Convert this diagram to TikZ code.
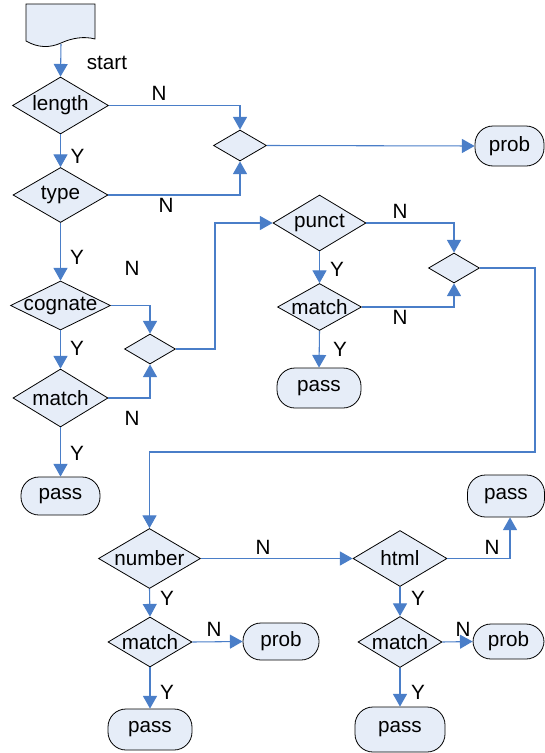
\documentclass[tikz,border=0pt]{standalone}
\usepackage{fontspec}
\setmainfont{Liberation Sans}
\usetikzlibrary{shapes.geometric,arrows.meta}
\definecolor{fillc}{HTML}{E6EDF8}
\definecolor{linec}{HTML}{4A7EC8}
\tikzset{
  dia/.style args={#1x#2}{diamond, draw=black, line width=0.6pt, fill=fillc, inner sep=0pt, minimum width=#1pt, minimum height=#2pt},
  term/.style args={#1x#2}{rectangle, rounded corners=13.5pt, draw=black, line width=0.6pt, fill=fillc, inner sep=0pt, minimum width=#1pt, minimum height=#2pt},
  arr/.style={draw=linec, line width=0.8pt, -{Triangle[length=9.5pt,width=10.5pt]}},
  lbl/.style={inner sep=0pt}
}
\begin{document}
\begin{tikzpicture}[x=0.75pt,y=-0.75pt,font=\fontsize{15.5}{18}\selectfont]
\useasboundingbox (0,0) rectangle (545,753);
% document shape
\draw[fill=fillc, draw=black, line width=0.6pt] (26,4) -- (95,4) -- (95,39)
  .. controls (84,36) and (72,38) .. (61,43)
  .. controls (50,48) and (38,48) .. (26,41) -- cycle;
\coordinate (doc) at (61,44);
\node[lbl] (start) at (107,63) {start};
% diamonds
\node[dia=72x42.75, label=center:length] (length) at (60.5,105.5) {};
\node[dia=71.25x41.25, label=center:type] (type) at (60.5,195) {};
\node[dia=39.75x23.25] (j1) at (240,145.5) {};
\node[dia=75x36.75, label=center:cognate] (cognate) at (60.5,305.5) {};
\node[dia=38.25x22.5] (j2) at (150,349) {};
\node[dia=71.25x43.5, label=center:match] (match1) at (60.5,398) {};
\node[dia=69.75x42, label=center:punct] (punct) at (319.5,223) {};
\node[dia=38.25x22.5] (j3) at (454,268) {};
\node[dia=63x35.25, label=center:match] (match2) at (319.5,307) {};
\node[dia=76.5x45, label=center:number] (number) at (149.5,558.5) {};
\node[dia=70.5x42, label=center:html] (html) at (400,558.5) {};
\node[dia=63x37.5, label=center:match] (match3) at (150,642) {};
\node[dia=63x38.25, label=center:match] (match4) at (400,642) {};
% terminals
\node[term=51.75x30] (prob1) at (509.5,146) {prob};
\node[term=59.25x28.5] (pass1) at (60.5,496) {pass};
\node[term=63x30] (pass2) at (319,388) {pass};
\node[term=57.75x31.5] (pass3) at (506,496) {pass};
\node[term=57x27.75] (prob2) at (281,641.5) {prob};
\node[term=53.25x26.25] (prob3) at (508.5,641.5) {prob};
\node[term=63x30.75] (pass4) at (150,729.5) {pass};
\node[term=67.5x33.75] (pass5) at (400,729.5) {pass};
% connectors
\draw[arr] (doc) -- (length.north);
\draw[arr] (length.east) -| (j1.north);
\draw[arr] (type.east) -| (j1.south);
\draw[arr] (j1.east) -- (prob1.west);
\draw[arr] (length.south) -- (type.north);
\draw[arr] (type.south) -- (cognate.north);
\draw[arr] (cognate.east) -| (j2.north);
\draw[arr] (cognate.south) -- (match1.north);
\draw[arr] (match1.east) -| (j2.south);
\draw[arr] (match1.south) -- (pass1.north);
\coordinate (c0) at (215,223);
\draw[arr] (j2.east) -| (c0) -- (punct.west);
\draw[arr] (punct.east) -| (j3.north);
\draw[arr] (punct.south) -- (match2.north);
\draw[arr] (match2.east) -| (j3.south);
\draw[arr] (match2.south) -- (pass2.north);
\coordinate (c1) at (535,452);
\draw[arr] (j3.east) -| (c1) -| (number.north);
\draw[arr] (number.east) -- (html.west);
\coordinate (c2) at (510,558.5);
\draw[arr] (html.east) -- (c2) -- (c2 |- pass3.south);
\draw[arr] (number.south) -- (match3.north);
\draw[arr] (match3.east) -- (prob2.west);
\draw[arr] (match3.south) -- (pass4.north);
\draw[arr] (html.south) -- (match4.north);
\draw[arr] (match4.east) -- (prob3.west);
\draw[arr] (match4.south) -- (pass5.north);
% labels
\node[lbl] (n1) at (159,93.5) {N};
\node[lbl] (n2) at (166,205) {N};
\node[lbl] (y1) at (77.5,156) {Y};
\node[lbl] (y2) at (77,257) {Y};
\node[lbl] (n3) at (132,268) {N};
\node[lbl] (y3) at (77,348) {Y};
\node[lbl] (n4) at (132,418) {N};
\node[lbl] (y4) at (77,453) {Y};
\node[lbl] (n5) at (400,211) {N};
\node[lbl] (y5) at (337,269) {Y};
\node[lbl] (n6) at (400,317) {N};
\node[lbl] (y6) at (340,349) {Y};
\node[lbl] (n7) at (263,547) {N};
\node[lbl] (n8) at (492,547) {N};
\node[lbl] (y7) at (167,598) {Y};
\node[lbl] (y8) at (418,598) {Y};
\node[lbl] (n9) at (214,629) {N};
\node[lbl] (n10) at (463,629) {N};
\node[lbl] (y9) at (167,692) {Y};
\node[lbl] (y10) at (418,692) {Y};
\end{tikzpicture}
\end{document}
